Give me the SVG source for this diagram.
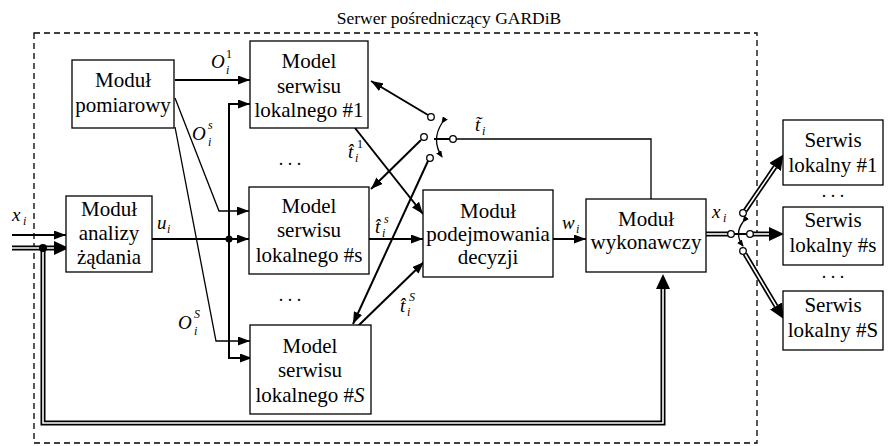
<svg xmlns="http://www.w3.org/2000/svg" width="892" height="446" viewBox="0 0 892 446">
<defs>
<marker id="ah" markerUnits="userSpaceOnUse" viewBox="0 0 12 9" refX="12" refY="4.5" markerWidth="12" markerHeight="9" orient="auto">
<path d="M0,0 L12,4.5 L0,9 Z" fill="#000"/>
</marker>
<marker id="ahs" markerUnits="userSpaceOnUse" viewBox="0 0 7 6" refX="6" refY="3" markerWidth="7" markerHeight="6" orient="auto">
<path d="M0,0 L7,3 L0,6 Z" fill="#000"/>
</marker>
<marker id="ahd" markerUnits="userSpaceOnUse" viewBox="0 0 15 14" refX="0" refY="7" markerWidth="15" markerHeight="14" orient="auto">
<path d="M0,0 L15,7 L0,14 Z" fill="#000"/>
</marker>
</defs>
<style>
text{font-family:'Liberation Serif','DejaVu Serif',serif;fill:#000}
.box{fill:#fff;stroke:#000;stroke-width:1.3}
.t{font-size:21px;text-anchor:middle}
.ttl{font-size:17.5px;text-anchor:middle}
.m{font-size:19px;font-style:italic}
.sb{font-size:12px;font-style:italic}
.sr{font-size:12px}
.dots{font-size:18px;text-anchor:middle}
.ln{stroke:#000;stroke-width:2;fill:none}
.thin{stroke:#000;stroke-width:1.3;fill:none}
.dbo{stroke:#000;stroke-width:5;fill:none;stroke-linejoin:miter}
.dbi{stroke:#fff;stroke-width:1.6;fill:none;stroke-linejoin:miter}
.sw{fill:#fff;stroke:#000;stroke-width:1.3}
.frame{fill:none;stroke:#000;stroke-width:1.3;stroke-dasharray:6 4}
</style>

<rect class="frame" x="34" y="33" width="723" height="410"/>
<text class="ttl" x="449" y="24" font-family="Liberation Serif, serif">Serwer pośredniczący GARDiB</text>

<g id="connectors">
<path class="ln" d="M175,80 H250" marker-end="url(#ah)"/>
<path class="ln" d="M229,239 V104 H250" marker-end="url(#ah)"/>
<path class="ln" d="M152,239 H249" marker-end="url(#ah)"/>
<path class="ln" d="M229,239 V358 H252" marker-end="url(#ah)"/>
<path class="thin" d="M175,98 L219,211 H249" marker-end="url(#ah)"/>
<path class="thin" d="M175,127 L216,341 H250" marker-end="url(#ah)"/>
<path class="ln" d="M355,128 L423,214" marker-end="url(#ah)"/>
<path class="ln" d="M369,239 H423" marker-end="url(#ah)"/>
<path class="ln" d="M358,326 L424,262" marker-end="url(#ah)"/>
<path class="ln" d="M428,115 L371,81" marker-end="url(#ah)"/>
<path class="ln" d="M421,140 L371,189" marker-end="url(#ah)"/>
<path class="ln" d="M428,161 L353,324" marker-end="url(#ah)"/>
<path class="thin" d="M456,139 H651 V199"/>
<path class="ln" d="M434,139 H450"/>
<path class="thin" d="M442,123 Q431,140 442,157" marker-start="url(#ahs)" marker-end="url(#ahs)"/>
<path class="ln" d="M553,239 H586" marker-end="url(#ah)"/>
<path class="ln" d="M12,235 H66" marker-end="url(#ah)"/>
<path class="dbo" d="M12,248 H54" marker-end="url(#ahd)"/>
<path class="dbi" d="M12,248 H54"/>
<path class="dbo" d="M43,248 V423 H663 V289" marker-end="url(#ahd)"/>
<path class="dbi" d="M43,248 V423 H663 V289"/>
<circle cx="43" cy="248" r="4" fill="#000"/>
<circle cx="229" cy="239" r="3.5" fill="#000"/>
<path class="dbo" d="M706,234 H728"/>
<path class="dbi" d="M706,234 H728"/>
<path class="ln" d="M734,234 H747"/>
<path class="thin" d="M743,222 Q734,234 743,246" marker-start="url(#ahs)" marker-end="url(#ahs)"/>
<path class="dbo" d="M745,211 L775,167" marker-end="url(#ahd)"/>
<path class="dbi" d="M745,211 L775,167"/>
<path class="dbo" d="M753,234 H769" marker-end="url(#ahd)"/>
<path class="dbi" d="M753,234 H769"/>
<path class="dbo" d="M745,254 L776,306" marker-end="url(#ahd)"/>
<path class="dbi" d="M745,254 L776,306"/>
<circle class="sw" cx="431" cy="117" r="3.3"/>
<circle class="sw" cx="424" cy="137" r="3.3"/>
<circle class="sw" cx="430" cy="158" r="3.3"/>
<circle class="sw" cx="453" cy="139" r="3.3"/>
<circle class="sw" cx="731" cy="234" r="3.3"/>
<circle class="sw" cx="743" cy="213" r="3.3"/>
<circle class="sw" cx="750" cy="234" r="3.3"/>
<circle class="sw" cx="743" cy="251" r="3.3"/>
</g>

<g id="labels">
<text class="m" x="211" y="68">O</text><text class="sr" x="226" y="58">1</text><text class="sb" x="226" y="74">i</text>
<text class="m" x="192" y="140">O</text><text class="sb" x="208" y="129">s</text><text class="sb" x="208" y="146">i</text>
<text class="m" x="178" y="329">O</text><text class="sb" x="194" y="318">S</text><text class="sb" x="194" y="335">i</text>
<text class="m" x="157" y="229">u</text><text class="sb" x="167" y="233">i</text>
<text class="m" x="12" y="221">x</text><text class="sb" x="23" y="225">i</text>
<text class="m" x="348" y="158">t̂</text><text class="sr" x="357" y="148">1</text><text class="sb" x="355" y="162">i</text>
<text class="m" x="375" y="233">t̂</text><text class="sb" x="384" y="223">s</text><text class="sb" x="382" y="237">i</text>
<text class="m" x="400" y="312">t̂</text><text class="sb" x="409" y="301">S</text><text class="sb" x="407" y="316">i</text>
<text class="m" x="475" y="131">t̃</text><text class="sb" x="482" y="135">i</text>
<text class="m" x="562" y="229">w</text><text class="sb" x="576" y="233">i</text>
<text class="m" x="712" y="218">x</text><text class="sb" x="723" y="222">i</text>
<text class="dots" x="290" y="165">. . .</text>
<text class="dots" x="290" y="301">. . .</text>
<text class="dots" x="833" y="197">. . .</text>
<text class="dots" x="833" y="278">. . .</text>
</g>

<g id="modul-pomiarowy">
<rect class="box" x="72" y="60" width="102" height="68"/>
<text class="t" x="123" y="87">Moduł</text>
<text class="t" x="123" y="112">pomiarowy</text>
</g>
<g id="model-1">
<rect class="box" x="250" y="41" width="118" height="87"/>
<text class="t" x="309" y="68">Model</text>
<text class="t" x="309" y="93">serwisu</text>
<text class="t" x="309" y="117">lokalnego #1</text>
</g>
<g id="modul-analizy">
<rect class="box" x="66" y="196" width="86" height="76"/>
<text class="t" x="109" y="216">Moduł</text>
<text class="t" x="109" y="240">analizy</text>
<text class="t" x="109" y="264">żądania</text>
</g>
<g id="model-s">
<rect class="box" x="249" y="187" width="120" height="87"/>
<text class="t" x="309" y="213">Model</text>
<text class="t" x="309" y="237">serwisu</text>
<text class="t" x="309" y="262">lokalnego #s</text>
</g>
<g id="model-S">
<rect class="box" x="250" y="325" width="121" height="89"/>
<text class="t" x="310" y="353">Model</text>
<text class="t" x="310" y="377">serwisu</text>
<text class="t" x="310" y="402">lokalnego #<tspan font-style="italic">S</tspan></text>
</g>
<g id="modul-decyzji">
<rect class="box" x="423" y="190" width="130" height="87"/>
<text class="t" x="488" y="218">Moduł</text>
<text class="t" x="488" y="241">podejmowania</text>
<text class="t" x="488" y="264">decyzji</text>
</g>
<g id="modul-wykonawczy">
<rect class="box" x="586" y="199" width="120" height="73"/>
<text class="t" x="646" y="226">Moduł</text>
<text class="t" x="646" y="249">wykonawczy</text>
</g>
<g id="serwis-1">
<rect class="box" x="783" y="120" width="100" height="65"/>
<text class="t" x="833" y="147">Serwis</text>
<text class="t" x="833" y="172">lokalny #1</text>
</g>
<g id="serwis-s">
<rect class="box" x="783" y="207" width="100" height="58"/>
<text class="t" x="833" y="227">Serwis</text>
<text class="t" x="833" y="252">lokalny #s</text>
</g>
<g id="serwis-S">
<rect class="box" x="783" y="291" width="100" height="59"/>
<text class="t" x="833" y="312">Serwis</text>
<text class="t" x="833" y="337">lokalny #S</text>
</g>
</svg>
